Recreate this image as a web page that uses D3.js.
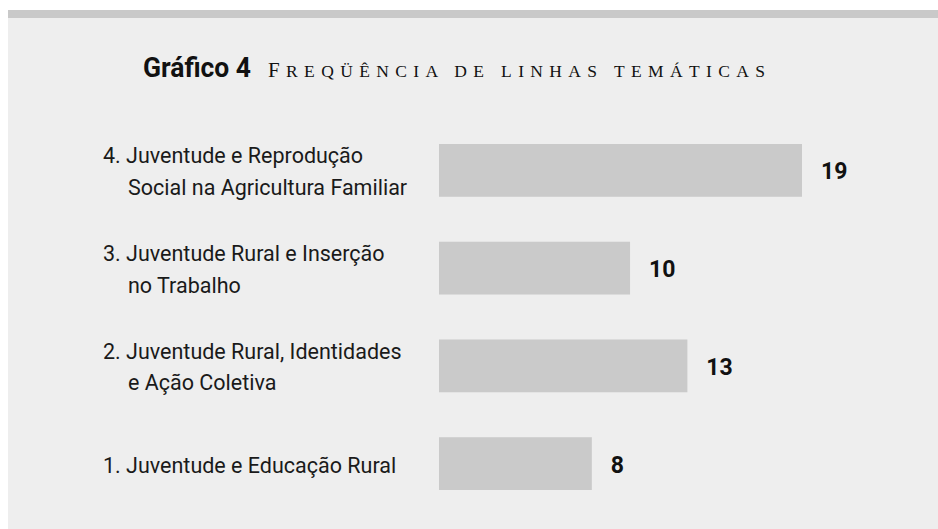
<!DOCTYPE html>
<html>
<head>
<meta charset="utf-8">
<script src="https://cdn.jsdelivr.net/npm/d3@7"></script>
<style>
  body { margin: 0; background: #fff; }
  svg { display: block; }
</style>
</head>
<body>
<svg id="chart" width="938" height="529"></svg>
<script>
// data, top bar first
const categories = ["4", "3", "2", "1"];
const labelLines = [
    ["4. Juventude e Reprodução", "Social na Agricultura Familiar"],
    ["3. Juventude Rural e Inserção", "no Trabalho"],
    ["2. Juventude Rural, Identidades", "e Ação Coletiva"],
    ["1. Juventude e Educação Rural"]
];
const values = [19, 10, 13, 8];
const titleBold = "Gráfico 4";
const titleCaps = "Freqüência de linhas temáticas";

const svg = d3.select("#chart");

// panel + top band
svg.append("rect")
    .attr("x", 8).attr("y", 10)
    .attr("width", 930).attr("height", 519)
    .attr("fill", "#eeeeee");
svg.append("rect")
    .attr("x", 8).attr("y", 10)
    .attr("width", 930).attr("height", 8)
    .attr("fill", "#c9c9c9");

// title
svg.append("text")
    .attr("x", 143).attr("y", 77)
    .attr("textLength", 108)
    .attr("lengthAdjust", "spacingAndGlyphs")
    .style("font-family", "Roboto")
    .style("font-weight", "bold")
    .style("font-size", "27px")
    .attr("fill", "#111")
    .text(titleBold);

const caps = svg.append("text")
    .attr("x", 268).attr("y", 77)
    .attr("textLength", 497)
    .attr("lengthAdjust", "spacing")
    .style("font-family", "Liberation Serif")
    .attr("fill", "#111");
caps.append("tspan")
    .style("font-size", "21px")
    .text(titleCaps.charAt(0).toUpperCase());
caps.append("tspan")
    .style("font-size", "17.5px")
    .text(titleCaps.slice(1).toUpperCase());

// scales
const x = d3.scaleLinear()
    .domain([0, 19])
    .range([439, 802]);

const y = d3.scaleBand()
    .domain(categories)
    .range([144, 490])
    .paddingInner(0.46)
    .paddingOuter(0);

// bars
svg.selectAll(".bar")
    .data(values)
    .enter()
    .append("rect")
    .attr("class", "bar")
    .attr("x", x(0))
    .attr("y", (d, i) => y(categories[i]))
    .attr("width", d => x(d) - x(0))
    .attr("height", y.bandwidth())
    .attr("fill", "#cacaca");

// value labels
svg.selectAll(".val")
    .data(values)
    .enter()
    .append("text")
    .attr("class", "val")
    .attr("x", d => x(d) + 19)
    .attr("y", (d, i) => y(categories[i]) + y.bandwidth() / 2 + 9)
    .style("font-family", "Roboto")
    .style("font-weight", "bold")
    .style("font-size", "23px")
    .attr("fill", "#111")
    .text(d => d);

// category labels
labelLines.forEach((lines, i) => {
    const mid = y(categories[i]) + y.bandwidth() / 2;
    const t = svg.append("text")
        .style("font-family", "Roboto")
        .style("font-size", "21.5px")
        .attr("fill", "#1a1a1a");
    if (lines.length === 1) {
        t.append("tspan").attr("x", 103).attr("y", mid + 9.5).text(lines[0]);
    } else {
        t.append("tspan").attr("x", 103).attr("y", mid - 7).text(lines[0]);
        t.append("tspan").attr("x", 128).attr("y", mid + 24.5).text(lines[1]);
    }
});
</script>
</body>
</html>
